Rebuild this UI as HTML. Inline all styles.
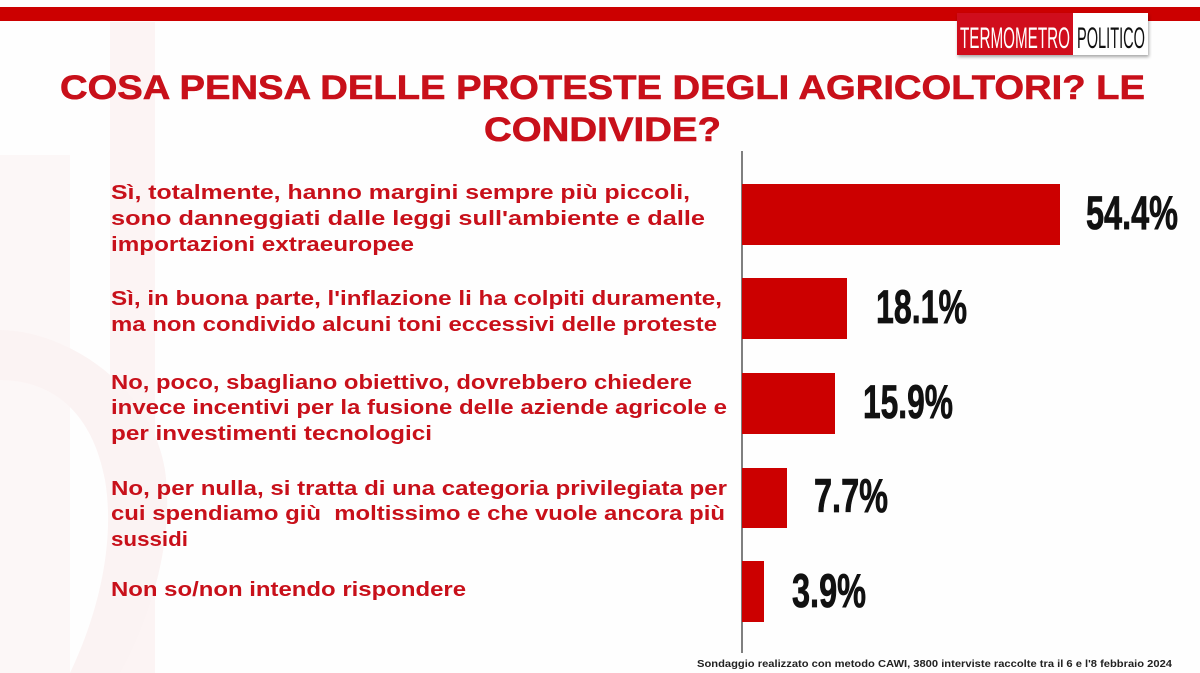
<!DOCTYPE html>
<html>
<head>
<meta charset="utf-8">
<style>
  html,body{margin:0;padding:0;background:#ffffff;}
  body{width:1200px;height:673px;overflow:hidden;}
  svg{display:block;}
</style>
</head>
<body>
<svg width="1200" height="673" viewBox="0 0 1200 673" xmlns="http://www.w3.org/2000/svg">
  <defs>
    <filter id="sh" x="-10%" y="-10%" width="120%" height="140%">
      <feDropShadow dx="1" dy="2" stdDeviation="1.5" flood-color="#000" flood-opacity="0.35"/>
    </filter>
  </defs>
  <!-- background -->
  <rect x="0" y="0" width="1200" height="673" fill="#fefefe"/>
  <!-- faint watermark shapes -->
  <rect x="110" y="22" width="45" height="651" fill="#fcf4f4"/>
  <rect x="0" y="155" width="70" height="518" fill="#fcf7f7"/>
  <path d="M0,330 C60,330 150,380 165,470 C175,540 150,620 120,673 L70,673 C100,610 115,540 105,480 C90,400 40,380 0,380 Z" fill="#fbf3f3"/>

  <!-- top red bar -->
  <rect x="0" y="7" width="1200" height="14" fill="#cc0000"/>

  <!-- logo -->
  <g filter="url(#sh)">
    <rect x="957" y="13" width="116" height="42" fill="#d0101f"/>
    <rect x="1073" y="13" width="75" height="42" fill="#ffffff"/>
  </g>
  <text x="960" y="48" font-family="Liberation Sans, sans-serif" font-size="30" fill="#ffffff" textLength="110" lengthAdjust="spacingAndGlyphs">TERMOMETRO</text>
  <text x="1077" y="48" font-family="Liberation Sans, sans-serif" font-size="30" fill="#111111" textLength="68" lengthAdjust="spacingAndGlyphs">POLITICO</text>

  <!-- title -->
  <g font-family="Liberation Sans, sans-serif" font-weight="bold" fill="#c8101a" stroke="#c8101a" stroke-width="0.6">
    <text x="60" y="99" font-size="34" textLength="1085" lengthAdjust="spacingAndGlyphs">COSA PENSA DELLE PROTESTE DEGLI AGRICOLTORI? LE</text>
    <text x="484" y="141" font-size="34" textLength="237" lengthAdjust="spacingAndGlyphs">CONDIVIDE?</text>
  </g>

  <!-- category labels -->
  <g font-family="Liberation Sans, sans-serif" font-weight="bold" fill="#c8101a" font-size="20.5">
    <text x="111" y="199" textLength="579" lengthAdjust="spacingAndGlyphs">Sì, totalmente, hanno margini sempre più piccoli,</text>
    <text x="111" y="225" textLength="594" lengthAdjust="spacingAndGlyphs">sono danneggiati dalle leggi sull'ambiente e dalle</text>
    <text x="111" y="251" textLength="303" lengthAdjust="spacingAndGlyphs">importazioni extraeuropee</text>

    <text x="111" y="305" textLength="611" lengthAdjust="spacingAndGlyphs">Sì, in buona parte, l'inflazione li ha colpiti duramente,</text>
    <text x="111" y="331" textLength="606" lengthAdjust="spacingAndGlyphs">ma non condivido alcuni toni eccessivi delle proteste</text>

    <text x="111" y="389" textLength="581" lengthAdjust="spacingAndGlyphs">No, poco, sbagliano obiettivo, dovrebbero chiedere</text>
    <text x="111" y="414" textLength="616" lengthAdjust="spacingAndGlyphs">invece incentivi per la fusione delle aziende agricole e</text>
    <text x="111" y="440" textLength="321" lengthAdjust="spacingAndGlyphs">per investimenti tecnologici</text>

    <text x="111" y="495" textLength="616" lengthAdjust="spacingAndGlyphs">No, per nulla, si tratta di una categoria privilegiata per</text>
    <text x="111" y="520" textLength="614" lengthAdjust="spacingAndGlyphs" xml:space="preserve">cui spendiamo giù  moltissimo e che vuole ancora più</text>
    <text x="111" y="546" textLength="77" lengthAdjust="spacingAndGlyphs">sussidi</text>

    <text x="111" y="596" textLength="355" lengthAdjust="spacingAndGlyphs">Non so/non intendo rispondere</text>
  </g>

  <!-- axis line -->
  <line x1="742" y1="151" x2="742" y2="653" stroke="#555555" stroke-width="1.5"/>

  <!-- bars -->
  <g fill="#cc0000">
    <rect x="742" y="184" width="318" height="61"/>
    <rect x="742" y="278" width="105" height="61"/>
    <rect x="742" y="373" width="93" height="61"/>
    <rect x="742" y="468" width="45" height="60"/>
    <rect x="742" y="561" width="22" height="61"/>
  </g>

  <!-- value labels -->
  <g font-family="Liberation Sans, sans-serif" font-weight="bold" fill="#111111" stroke="#111111" stroke-width="0.8" font-size="47">
    <text x="1086" y="229" textLength="92" lengthAdjust="spacingAndGlyphs">54.4%</text>
    <text x="876" y="323" textLength="91" lengthAdjust="spacingAndGlyphs">18.1%</text>
    <text x="863" y="418" textLength="90" lengthAdjust="spacingAndGlyphs">15.9%</text>
    <text x="814" y="512" textLength="74" lengthAdjust="spacingAndGlyphs">7.7%</text>
    <text x="792" y="607" textLength="74" lengthAdjust="spacingAndGlyphs">3.9%</text>
  </g>

  <!-- footer -->
  <text x="697" y="667" font-family="Liberation Sans, sans-serif" font-weight="bold" font-size="10.5" fill="#222222" textLength="475" lengthAdjust="spacingAndGlyphs">Sondaggio realizzato con metodo CAWI, 3800 interviste raccolte tra il 6 e l'8 febbraio 2024</text>
</svg>
</body>
</html>
